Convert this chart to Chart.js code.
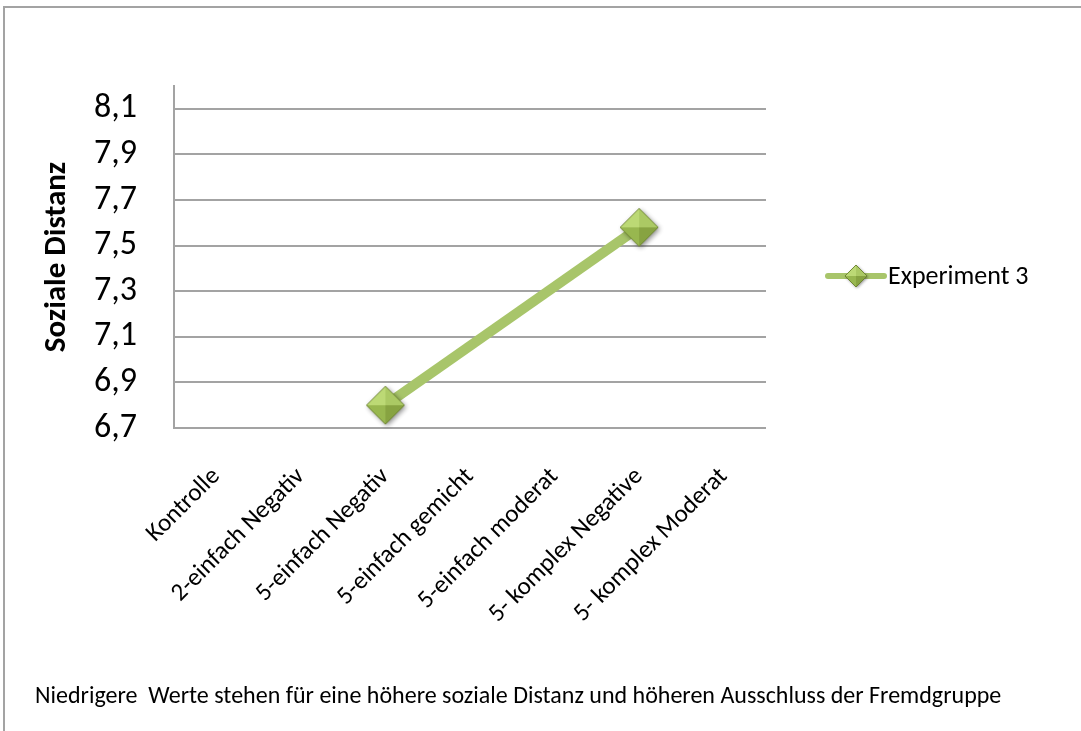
<!DOCTYPE html>
<html>
<head>
    <title>Soziale Distanz - Experiment 3</title>
    <script src="https://cdn.jsdelivr.net/npm/chart.js@4/dist/chart.umd.min.js"></script>
    <style>
        body { margin: 0; background: #fff; font-family: Carlito, Lato, sans-serif; }
        #frame { position: absolute; left: 3px; top: 6px; width: 1090px; height: 740px;
                 border-top: 2px solid #a3a3a3; border-left: 2px solid #a3a3a3; }
        #chart { position: absolute; left: 0; top: 0; }
        #note { position: absolute; left: 35px; top: 680px; font-size: 24px; color: #000; white-space: pre; }
    </style>
</head>

<body>
    <div id="frame"></div>
    <canvas id="chart" width="1081" height="731"></canvas>
    <div id="note">Niedrigere  Werte stehen für eine höhere soziale Distanz und höheren Ausschluss der Fremdgruppe</div>

    <script>
        var categories = ['Kontrolle', '2-einfach Negativ', '5-einfach Negativ', '5-einfach gemicht',
                          '5-einfach moderat', '5- komplex Negative', '5- komplex Moderat'];
        var experiment3 = [null, null, 6.8, null, null, 7.58, null];
        var yTicks = [6.7, 6.9, 7.1, 7.3, 7.5, 7.7, 7.9, 8.1];
        var yMin = 6.7, yMax = 8.2;

        var FONT = 'Carlito, Lato, sans-serif';
        var lineColor = '#a8c56a';
        var gridColor = '#a3a3a3';

        // bevelled green diamond used as point marker
        function makeDiamond(r, blur) {
            var pad = Math.ceil(blur) + 3;
            var size = 2 * (r + pad);
            var c = document.createElement('canvas');
            c.width = c.height = size;
            var g = c.getContext('2d');
            var m = size / 2;

            function path() {
                g.beginPath();
                g.moveTo(m - r, m); g.lineTo(m, m - r); g.lineTo(m + r, m); g.lineTo(m, m + r);
                g.closePath();
            }
            g.save();
            g.shadowColor = 'rgba(0,0,0,0.45)';
            g.shadowBlur = blur;
            g.shadowOffsetX = blur / 3;
            g.shadowOffsetY = blur / 3;
            path(); g.fillStyle = '#9ab653'; g.fill();
            g.restore();

            var faces = [
                [[m - r, m], [m, m - r], '#bcd975'],
                [[m, m - r], [m + r, m], '#abc964'],
                [[m + r, m], [m, m + r], '#87a341'],
                [[m, m + r], [m - r, m], '#98b74f']
            ];
            faces.forEach(function (f) {
                g.beginPath();
                g.moveTo(f[0][0], f[0][1]); g.lineTo(f[1][0], f[1][1]); g.lineTo(m, m);
                g.closePath();
                g.fillStyle = f[2];
                g.fill();
            });
            path();
            g.lineWidth = 1;
            g.strokeStyle = 'rgba(105,128,48,0.9)';
            g.stroke();
            return c;
        }

        var bigDiamond = makeDiamond(19, 5);
        var smallDiamond = makeDiamond(11, 3);

        // legend: short line with diamond, label on the right
        var sideLegend = {
            id: 'sideLegend',
            afterDraw: function (chart) {
                var ctx = chart.ctx;
                var area = chart.chartArea;
                var ds = chart.data.datasets[0];
                var x0 = area.right + 62, x1 = area.right + 118;
                var y = area.top + 190;
                ctx.save();
                ctx.strokeStyle = ds.borderColor;
                ctx.lineWidth = 6;
                ctx.lineCap = 'round';
                ctx.beginPath();
                ctx.moveTo(x0, y); ctx.lineTo(x1, y);
                ctx.stroke();
                ctx.drawImage(smallDiamond, (x0 + x1) / 2 - smallDiamond.width / 2, y - smallDiamond.height / 2);
                ctx.fillStyle = '#000';
                ctx.font = '26px ' + FONT;
                ctx.textBaseline = 'middle';
                ctx.fillText(ds.label, x1 + 4, y + 1);
                ctx.restore();
            }
        };

        new Chart('chart', {
            type: 'line',
            data: {
                labels: categories,
                datasets: [{
                    label: 'Experiment 3',
                    data: experiment3,
                    borderColor: lineColor,
                    borderWidth: 10,
                    spanGaps: true,
                    pointStyle: bigDiamond,
                    pointRadius: 19,
                    clip: false
                }]
            },
            options: {
                responsive: false,
                animation: false,
                layout: { padding: { top: 86, left: 36, right: 315, bottom: 0 } },
                plugins: {
                    legend: { display: false },
                    tooltip: { enabled: false }
                },
                scales: {
                    x: {
                        offset: true,
                        grid: { display: false },
                        border: { display: false },
                        ticks: {
                            color: '#000',
                            font: { family: FONT, size: 25 },
                            minRotation: 45,
                            maxRotation: 45,
                            padding: 26,
                            autoSkip: false
                        },
                        afterFit: function (axis) { axis.height = 731 - 428; }
                    },
                    y: {
                        min: yMin,
                        max: yMax,
                        afterBuildTicks: function (axis) {
                            axis.ticks = yTicks.map(function (v) { return { value: v }; });
                        },
                        afterFit: function (axis) { axis.width = 174 - 36; },
                        grid: { color: gridColor, lineWidth: 2, drawTicks: false },
                        border: { color: gridColor, width: 2 },
                        ticks: {
                            color: '#000',
                            font: { family: FONT, size: 34 },
                            padding: 37,
                            callback: function (v) { return v.toFixed(1).replace('.', ','); }
                        },
                        title: {
                            display: true,
                            text: 'Soziale Distanz',
                            color: '#000',
                            font: { family: FONT, size: 31, weight: 'bold' },
                            padding: { top: 3, bottom: 0 }
                        }
                    }
                }
            },
            plugins: [sideLegend]
        });
    </script>
</body>
</html>
